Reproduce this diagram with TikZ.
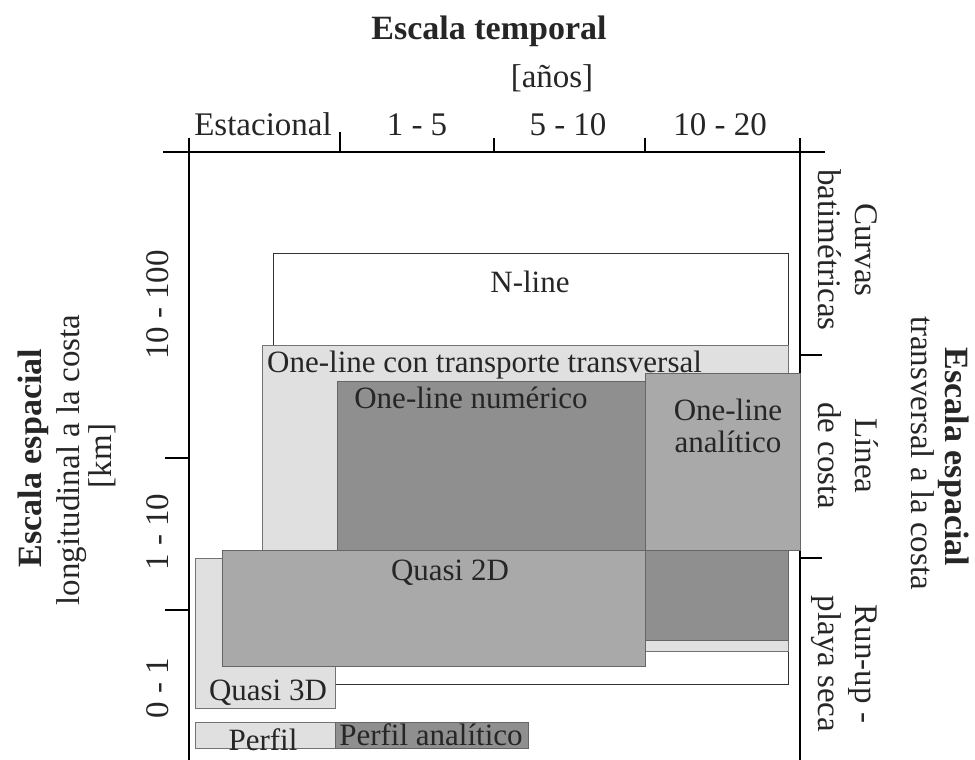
\documentclass[tikz,border=0pt]{standalone}
\usepackage{fontspec}
\setmainfont{Liberation Serif}
\begin{document}
\begin{tikzpicture}[x=1pt,y=-1pt,
  axis/.style={draw=black,line width=1.1pt},
  boxw/.style={draw=black!80,line width=1pt,fill=white},
  boxl/.style={draw=black!55,line width=1pt,fill=lightg},
  boxm/.style={draw=black!60,line width=1pt,fill=midg},
  boxd/.style={draw=black!60,line width=1pt,fill=darkg},
  lbl/.style={inner sep=0pt,anchor=base,font=\fontsize{31}{35}\selectfont,text=black!85},
  ax/.style={inner sep=0pt,anchor=base,font=\fontsize{33}{37}\selectfont,text=black!85},
  axb/.style={inner sep=0pt,anchor=base,font=\fontsize{34}{38}\selectfont\bfseries,text=black!85}]
\definecolor{lightg}{HTML}{E0E0E0}
\definecolor{midg}{HTML}{A9A9A9}
\definecolor{darkg}{HTML}{8F8F8F}
\useasboundingbox (0,0) rectangle (975,760);
% axes
\coordinate (tl) at (163,152); \coordinate (tr) at (825,152);
\draw[axis] (tl) -- (tr);
\coordinate (la) at (189,138); \coordinate (lb) at (189,760);
\draw[axis] (la) -- (lb);
\coordinate (ra) at (800,138); \coordinate (rb) at (800,760);
\draw[axis] (ra) -- (rb);
\coordinate (t1a) at (340,132); \coordinate (t1b) at (340,152);
\coordinate (t2a) at (494,138); \coordinate (t2b) at (494,152);
\coordinate (t3a) at (645,138); \coordinate (t3b) at (645,152);
\draw[axis] (t1a) -- (t1b) (t2a) -- (t2b) (t3a) -- (t3b);
\coordinate (l1a) at (165,458); \coordinate (l1b) at (189,458);
\coordinate (l2a) at (165,610); \coordinate (l2b) at (189,610);
\draw[axis] (l1a) -- (l1b) (l2a) -- (l2b);
\coordinate (r1a) at (800,355); \coordinate (r1b) at (822,355);
\coordinate (r2a) at (800,558); \coordinate (r2b) at (822,558);
\draw[axis] (r1a) -- (r1b) (r2a) -- (r2b);
% boxes
\draw[boxw] (273,253) rectangle (788,684);
\draw[boxl] (262,345) rectangle (788,651);
\draw[boxd] (337,381) rectangle (788,640);
\draw[boxm] (645,373) rectangle (800,550);
\draw[boxl] (195,558) rectangle (335,708);
\draw[boxm] (222,550) rectangle (645,666);
\draw[boxl] (195,722) rectangle (335,748);
\draw[boxd] (335,722) rectangle (528,748);
% box labels
\node[lbl] (nline) at (530,292) {N-line};
\node[lbl,anchor=base west] (otr) at (267,372) {One-line con transporte transversal};
\node[lbl] (onum) at (471,408) {One-line numérico};
\node[lbl] (oan1) at (728,420) {One-line};
\node[lbl] (oan2) at (728,452) {analítico};
\node[lbl] (q2d) at (450,580) {Quasi 2D};
\node[lbl] (q3d) at (268,700) {Quasi 3D};
\node[lbl] (perf) at (263,750) {Perfil};
\node[lbl] (perfa) at (431,745) {Perfil analítico};
% top axis texts
\node[axb] (tt) at (489,40) {Escala temporal};
\node[ax] (anos) at (552,88) {[años]};
\node[ax] (c1) at (263,135) {Estacional};
\node[ax] (c2) at (417,135) {1 - 5};
\node[ax] (c3) at (568,135) {5 - 10};
\node[ax] (c4) at (720,135) {10 - 20};
% left texts
\node[axb,rotate=90] (le1) at (41,458) {Escala espacial};
\node[ax,rotate=90] (le2) at (79,460) {longitudinal a la costa};
\node[ax,rotate=90] (le3) at (111,456) {[km]};
\node[ax,rotate=90] (r1) at (168,305) {10 - 100};
\node[ax,rotate=90] (r2) at (168,532) {1 - 10};
\node[ax,rotate=90] (r3) at (168,688) {0 - 1};
% right texts
\node[ax,rotate=-90] (cu1) at (855,250) {Curvas};
\node[ax,rotate=-90] (cu2) at (818,250) {batimétricas};
\node[ax,rotate=-90] (li1) at (855,456) {Línea};
\node[ax,rotate=-90] (li2) at (818,456) {de costa};
\node[ax,rotate=-90] (ru1) at (855,664) {Run-up -};
\node[ax,rotate=-90] (ru2) at (818,664) {playa seca};
\node[ax,rotate=-90] (re2) at (911,453) {transversal a la costa};
\node[axb,rotate=-90] (re1) at (945,457) {Escala espacial};
\end{tikzpicture}
\end{document}
